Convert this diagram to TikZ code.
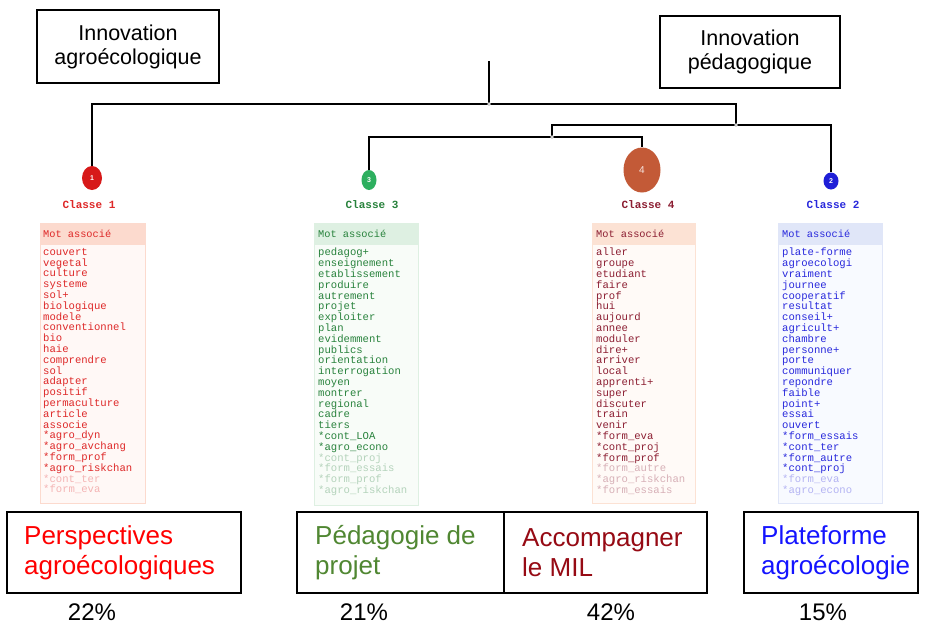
\documentclass[tikz,border=0pt]{standalone}
\usepackage{fontspec}
\setmainfont{Liberation Sans}
\newfontfamily\monof{Liberation Mono}
\usetikzlibrary{shapes.geometric}
\definecolor{cA}{RGB}{222,40,40}
\definecolor{cC}{RGB}{40,130,60}
\definecolor{cD}{RGB}{140,30,50}
\definecolor{cB}{RGB}{40,40,220}
\definecolor{hA}{RGB}{252,218,206}
\definecolor{hC}{RGB}{222,240,226}
\definecolor{hD}{RGB}{252,226,212}
\definecolor{hB}{RGB}{224,230,248}
\definecolor{bA}{RGB}{255,248,246}
\definecolor{bC}{RGB}{248,252,248}
\definecolor{bD}{RGB}{255,250,247}
\definecolor{bB}{RGB}{248,250,255}
\definecolor{rA}{RGB}{215,25,25}
\definecolor{rC}{RGB}{45,175,95}
\definecolor{rD}{RGB}{195,90,55}
\definecolor{rB}{RGB}{30,30,215}
\definecolor{tA}{RGB}{255,0,0}
\definecolor{tC}{RGB}{80,135,50}
\definecolor{tD}{RGB}{150,10,20}
\definecolor{tB}{RGB}{20,20,255}
\newcommand\fw[1]{{\color{.!35}#1}}
\tikzset{
  topbox/.style={draw=black, line width=2.8pt, minimum width=182pt, minimum height=73pt, align=center, font=\fontsize{21.5}{24}\selectfont},
  botbox/.style={draw=black, line width=1.5pt},
  bottext/.style={anchor=west, inner sep=0, align=left, font=\fontsize{26}{30}\selectfont},
  pct/.style={font=\fontsize{24}{26}\selectfont},
  dend/.style={draw=black, line width=1.5pt},
  ball/.style={ellipse, inner sep=0, text=white, font=\fontsize{7}{8}\selectfont\bfseries},
  classlab/.style={font=\monof\bfseries\fontsize{11}{12}\selectfont},
  listhead/.style={anchor=west, inner sep=0, font=\monof\fontsize{10.3}{12}\selectfont},
  listtext/.style={anchor=north west, inner sep=0, align=left, font=\monof\fontsize{10.6}{10.8}\selectfont},
  jdot/.style={circle, draw=gray!60, fill=white, inner sep=0, minimum size=3pt, line width=0.5pt}
}
\begin{document}
\begin{tikzpicture}[x=1pt, y=-1pt]
\useasboundingbox (0,0) rectangle (925,627);
\fill[white] (0,0) rectangle (925,627);

% top boxes
\node[topbox] (ia) at (128,46.5) {Innovation\\agroécologique};
\node[topbox, minimum width=180pt, minimum height=72pt] (ip) at (750,52) {Innovation\\pédagogique};

% circles
\node[ball, fill=rA, minimum width=20pt, minimum height=24pt] (c1) at (92,178) {1};
\node[ball, fill=rC, minimum width=15pt, minimum height=20pt] (c3) at (369,180) {3};
\node[ball, fill=rD, minimum width=37pt, minimum height=45pt, font=\fontsize{10}{12}\selectfont, text=white!85!rD] (c4) at (642,170) {4};
\node[ball, fill=rB, minimum width=15pt, minimum height=17pt] (c2) at (831,181) {2};

% dendrogram
\coordinate (root) at (489,61);
\coordinate (j1) at (489,104);
\coordinate (j2) at (736,125);
\coordinate (j3) at (552,137);
\draw[dend] (root) -- (j1);
\draw[dend] (c1.north) |- (j2 |- j1) -- (j2);
\draw[dend] (j3) -- (j3 |- j2) -| (c2.north);
\draw[dend] (c3.north) |- (c4.north |- j3) -- (c4.north);
\node[jdot] at (j1) {};
\node[jdot] at (j2) {};
\node[jdot] at (j3) {};

% class labels
\node[classlab, text=cA] (l1) at (89,205) {Classe 1};
\node[classlab, text=cC] (l3) at (372,205) {Classe 3};
\node[classlab, text=cD] (l4) at (648,205) {Classe 4};
\node[classlab, text=cB] (l2) at (833,205) {Classe 2};

% list boxes
\draw[draw=hA, fill=bA] (40,223) rectangle (145,503);
\fill[hA] (40,223) rectangle (145,245);
\node[listhead, text=cA] (h1) at (43,234) {Mot associé};
\node[listtext, text=cA] (w1) at (43,248) {couvert\\vegetal\\culture\\systeme\\sol+\\biologique\\modele\\conventionnel\\bio\\haie\\comprendre\\sol\\adapter\\positif\\permaculture\\article\\associe\\{*}agro\_dyn\\{*}agro\_avchang\\{*}form\_prof\\{*}agro\_riskchan\\\fw{*cont\_ter}\\\fw{*form\_eva}};

\draw[draw=hC, fill=bC] (314,223) rectangle (418,505);
\fill[hC] (314,223) rectangle (418,245);
\node[listhead, text=cC] (h3) at (318,234) {Mot associé};
\node[listtext, text=cC] (w3) at (318,248) {pedagog+\\enseignement\\etablissement\\produire\\autrement\\projet\\exploiter\\plan\\evidemment\\publics\\orientation\\interrogation\\moyen\\montrer\\regional\\cadre\\tiers\\{*}cont\_LOA\\{*}agro\_econo\\\fw{*cont\_proj}\\\fw{*form\_essais}\\\fw{*form\_prof}\\\fw{*agro\_riskchan}};

\draw[draw=hD, fill=bD] (592,223) rectangle (695,503);
\fill[hD] (592,223) rectangle (695,245);
\node[listhead, text=cD] (h4) at (596,234) {Mot associé};
\node[listtext, text=cD] (w4) at (596,248) {aller\\groupe\\etudiant\\faire\\prof\\hui\\aujourd\\annee\\moduler\\dire+\\arriver\\local\\apprenti+\\super\\discuter\\train\\venir\\{*}form\_eva\\{*}cont\_proj\\{*}form\_prof\\\fw{*form\_autre}\\\fw{*agro\_riskchan}\\\fw{*form\_essais}};

\draw[draw=hB, fill=bB] (778,223) rectangle (882,503);
\fill[hB] (778,223) rectangle (882,245);
\node[listhead, text=cB] (h2) at (782,234) {Mot associé};
\node[listtext, text=cB] (w2) at (782,248) {plate-forme\\agroecologi\\vraiment\\journee\\cooperatif\\resultat\\conseil+\\agricult+\\chambre\\personne+\\porte\\communiquer\\repondre\\faible\\point+\\essai\\ouvert\\{*}form\_essais\\{*}cont\_ter\\{*}form\_autre\\{*}cont\_proj\\\fw{*form\_eva}\\\fw{*agro\_econo}};

% bottom boxes
\draw[botbox] (7,512) rectangle (241,593);
\draw[botbox] (297,512) rectangle (707,593);
\draw[botbox] (504,512) -- (504,593);
\draw[botbox] (744,512) rectangle (918,593);
\node[bottext, text=tA] (t1) at (24,553) {Perspectives\\agroécologiques};
\node[bottext, text=tC] (t3) at (315,553) {Pédagogie de\\projet};
\node[bottext, text=tD] (t4) at (522,553) {Accompagner\\le MIL};
\node[bottext, text=tB] (t2) at (761,553) {Plateforme\\agroécologie};

% percentages
\node[pct] (p1) at (92,612) {22\%};
\node[pct] (p3) at (364,612) {21\%};
\node[pct] (p4) at (611,612) {42\%};
\node[pct] (p2) at (823,612) {15\%};
\end{tikzpicture}
\end{document}
